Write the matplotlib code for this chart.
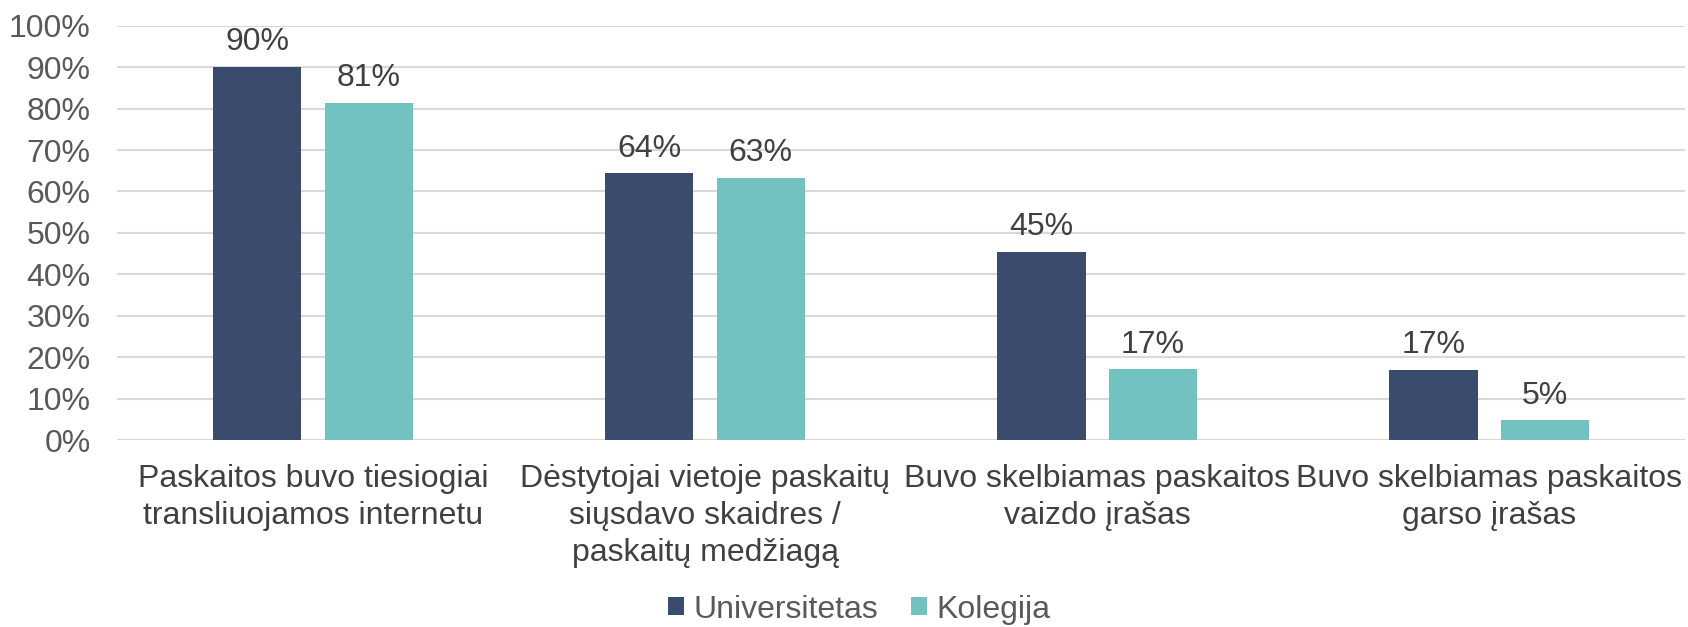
import numpy as np
import matplotlib.pyplot as plt
from matplotlib.ticker import PercentFormatter

plt.rcParams['font.family'] = ['Liberation Sans', 'DejaVu Sans']

categories = [
    "Paskaitos buvo tiesiogiai\ntransliuojamos internetu",
    "Dėstytojai vietoje paskaitų\nsiųsdavo skaidres /\npaskaitų medžiagą",
    "Buvo skelbiamas paskaitos\nvaizdo įrašas",
    "Buvo skelbiamas paskaitos\ngarso įrašas",
]
universitetas = [0.90, 0.644, 0.455, 0.169]
kolegija = [0.813, 0.633, 0.171, 0.048]
labels_u = ["90%", "64%", "45%", "17%"]
labels_k = ["81%", "63%", "17%", "5%"]

c_u = "#3A4B6E"
c_k = "#73C2C2"
fs = 23

fig = plt.figure(figsize=(16.88, 6.27), dpi=100)
ax = fig.add_axes([0.0693, 0.298, 0.929, 0.661])

x = np.arange(len(categories))
w = 0.225
off = 0.142
b1 = ax.bar(x - off, universitetas, w, color=c_u, label="Universitetas", zorder=3)
b2 = ax.bar(x + off, kolegija, w, color=c_k, label="Kolegija", zorder=3)

ax.bar_label(b1, labels=labels_u, padding=7, fontsize=fs, color="#404040")
ax.bar_label(b2, labels=labels_k, padding=7, fontsize=fs, color="#404040")

ax.set_xlim(-0.5, 3.5)
ax.set_ylim(0, 1.0)
ax.set_yticks(np.arange(0, 1.01, 0.1))
ax.yaxis.set_major_formatter(PercentFormatter(1.0, decimals=0))
ax.grid(axis="y", color="#D9D9D9", linewidth=1.5, zorder=0)
ax.set_axisbelow(True)
for s in ax.spines.values():
    s.set_visible(False)
ax.tick_params(axis="y", length=0, labelsize=fs, labelcolor="#595959", pad=19)
ax.tick_params(axis="x", length=0, labelsize=fs, labelcolor="#404040", pad=17)
ax.set_xticks(x)
ax.set_xticklabels(categories, linespacing=1.3)

leg = fig.legend(handles=[b1, b2], loc="lower center", bbox_to_anchor=(0.509, -0.042),
                 ncol=2, frameon=False, fontsize=fs, handlelength=0.5,
                 handleheight=0.5, handletextpad=0.3, columnspacing=1.0)
for t in leg.get_texts():
    t.set_color("#595959")

fig.savefig("out.png", dpi=100)
